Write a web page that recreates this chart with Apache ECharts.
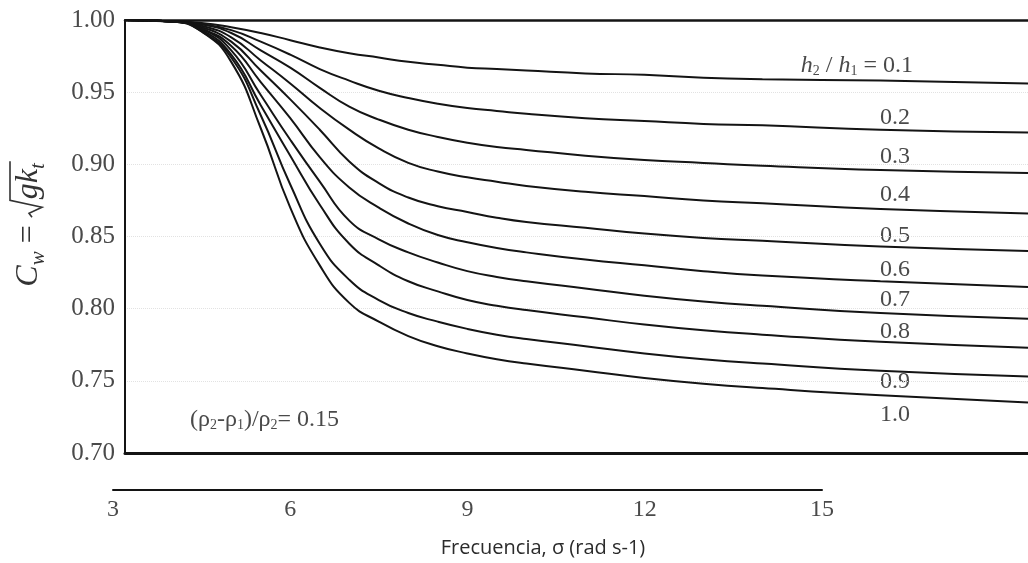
<!DOCTYPE html>
<html>
<head>
<meta charset="utf-8">
<title>Cw vs frecuencia</title>
<script src="https://cdn.jsdelivr.net/npm/echarts@6/dist/echarts.min.js"></script>
<style>
  html, body { margin: 0; padding: 0; background: #fff; }
  #chart { width: 1028px; height: 563px; }
</style>
</head>
<body>
<div id="chart"></div>
<script>
// Frequency samples (rad/s) shared by every curve
const sigma = [3.2, 4, 4.5, 5, 5.5, 6, 6.5, 7, 7.5, 8, 8.5, 9, 9.5, 10, 11, 12, 13, 14, 16, 18.5];

// Cw = sqrt(g k_t) for each depth ratio h2/h1
const cw01 = [1.000, 0.999, 0.998, 0.995, 0.991, 0.986, 0.981, 0.977, 0.974, 0.971, 0.969, 0.967, 0.966, 0.965, 0.963, 0.962, 0.960, 0.959, 0.958, 0.956];
const cw02 = [1.000, 0.999, 0.997, 0.993, 0.985, 0.976, 0.966, 0.958, 0.951, 0.946, 0.942, 0.939, 0.937, 0.935, 0.932, 0.930, 0.928, 0.927, 0.924, 0.922];
const cw03 = [1.000, 0.999, 0.997, 0.991, 0.979, 0.967, 0.953, 0.940, 0.931, 0.924, 0.919, 0.915, 0.912, 0.910, 0.906, 0.903, 0.901, 0.899, 0.896, 0.894];
const cw04 = [1.000, 0.999, 0.996, 0.988, 0.972, 0.956, 0.939, 0.924, 0.911, 0.901, 0.895, 0.891, 0.888, 0.885, 0.881, 0.878, 0.875, 0.873, 0.869, 0.866];
const cw05 = [1.000, 0.999, 0.995, 0.985, 0.965, 0.945, 0.924, 0.902, 0.887, 0.877, 0.871, 0.867, 0.863, 0.860, 0.856, 0.852, 0.849, 0.847, 0.843, 0.840];
const cw06 = [1.000, 0.999, 0.994, 0.982, 0.957, 0.932, 0.905, 0.884, 0.870, 0.859, 0.851, 0.846, 0.842, 0.839, 0.834, 0.830, 0.826, 0.823, 0.819, 0.815];
const cw07 = [1.000, 0.999, 0.994, 0.979, 0.948, 0.917, 0.888, 0.861, 0.848, 0.839, 0.832, 0.826, 0.822, 0.819, 0.814, 0.809, 0.805, 0.802, 0.797, 0.793];
const cw08 = [1.000, 0.999, 0.993, 0.976, 0.941, 0.906, 0.872, 0.845, 0.830, 0.819, 0.812, 0.806, 0.802, 0.799, 0.794, 0.789, 0.785, 0.782, 0.777, 0.773];
const cw09 = [1.000, 0.999, 0.992, 0.974, 0.934, 0.886, 0.845, 0.820, 0.806, 0.797, 0.791, 0.786, 0.782, 0.779, 0.774, 0.769, 0.765, 0.762, 0.757, 0.753];
const cw10 = [1.000, 0.999, 0.992, 0.971, 0.925, 0.870, 0.830, 0.804, 0.791, 0.781, 0.774, 0.769, 0.765, 0.762, 0.757, 0.752, 0.748, 0.745, 0.740, 0.735];

const ratioNames = ['0.1', '0.2', '0.3', '0.4', '0.5', '0.6', '0.7', '0.8', '0.9', '1.0'];
const curves = [cw01, cw02, cw03, cw04, cw05, cw06, cw07, cw08, cw09, cw10];

// Axis ticks
const yTicks = { min: 0.70, max: 1.00, step: 0.05 };
const xTicks = { min: 3, max: 15, step: 3 };

const serif = '"Liberation Serif", "DejaVu Serif", serif';
const ink = '#141414';
const textInk = '#4a4a4a';

const chart = echarts.init(document.getElementById('chart'), null, { renderer: 'canvas' });

// text measuring for the rotated axis title
const mctx = document.createElement('canvas').getContext('2d');
function tw(font, s) { mctx.font = font; return mctx.measureText(s).width; }

function yTitle() {
  const big = 'italic 32px ' + serif;
  const bigN = '32px ' + serif;
  const sub = 'italic 21px ' + serif;
  const parts = [];
  const wC = tw(big, 'C'); const wW = tw(sub, 'w');
  const wEq = tw(bigN, '=');
  const wGk = tw(big, 'gk'); const wT = tw(sub, 't');
  const total = wC + wW + 8 + wEq + 8 + 18 + wGk + wT + 2;
  let x = -total / 2;
  parts.push({ type: 'text', style: { text: 'C', x: x, y: 0, font: big, fill: '#333', verticalAlign: 'middle' } });
  x += wC;
  parts.push({ type: 'text', style: { text: 'w', x: x, y: 9, font: sub, fill: '#333', verticalAlign: 'middle' } });
  x += wW + 8;
  parts.push({ type: 'text', style: { text: '=', x: x, y: 0, font: bigN, fill: '#333', verticalAlign: 'middle' } });
  x += wEq + 8;
  const r0 = x;
  x += 18;
  parts.push({ type: 'text', style: { text: 'gk', x: x, y: 0, font: big, fill: '#333', verticalAlign: 'middle' } });
  x += wGk;
  parts.push({ type: 'text', style: { text: 't', x: x, y: 9, font: sub, fill: '#333', verticalAlign: 'middle' } });
  x += wT + 2;
  parts.push({
    type: 'polyline',
    shape: { points: [[r0, 3], [r0 + 4, 0], [r0 + 10, 13], [r0 + 17, -19], [x, -19]] },
    style: { stroke: '#333', lineWidth: 1.6, fill: null }
  });
  return { type: 'group', x: 29, y: 224, rotation: Math.PI / 2, children: parts };
}

// curve labels at the right side
const labelY = [0, 118, 157, 195, 236, 270, 300, 332, 382, 415];
const labelEls = [];
labelEls.push({
  type: 'text', x: 913, y: 66,
  style: {
    text: '{i|h}{s|2}{n| / }{i|h}{s|1}{n| = 0.1}',
    align: 'right', verticalAlign: 'middle',
    rich: {
      i: { fontStyle: 'italic', fontFamily: serif, fontSize: 24, fill: textInk, color: textInk },
      n: { fontFamily: serif, fontSize: 24, fill: textInk, color: textInk },
      s: { fontFamily: serif, fontSize: 14, fill: textInk, color: textInk, verticalAlign: 'bottom', padding: [10, 0, 0, 0] }
    }
  }
});
for (let i = 1; i < ratioNames.length; i++) {
  labelEls.push({
    type: 'text', x: 895, y: labelY[i],
    style: { text: ratioNames[i], font: '24px ' + serif, fill: textInk, align: 'center', verticalAlign: 'middle' }
  });
}
labelEls.push({
  type: 'text', x: 190, y: 420,
  style: {
    text: '{n|(ρ}{s|2}{n|-ρ}{s|1}{n|)/ρ}{s|2}{n|= 0.15}',
    align: 'left', verticalAlign: 'middle',
    rich: {
      n: { fontFamily: serif, fontSize: 24, fill: textInk, color: textInk },
      s: { fontFamily: serif, fontSize: 14, fill: textInk, color: textInk, verticalAlign: 'bottom', padding: [10, 0, 0, 0] }
    }
  }
});
labelEls.push({
  type: 'text', x: 543, y: 548,
  style: { text: 'Frecuencia, σ (rad s-1)', font: '20px "Open Sans", "Noto Sans", sans-serif', fill: '#2b2b2b', align: 'center', verticalAlign: 'middle' }
});
labelEls.push(yTitle());

const option = {
  backgroundColor: '#ffffff',
  animation: false,
  grid: [
    { left: 125, right: 0, top: 20, bottom: 110, containLabel: false },
    { left: 113, width: 709, top: 480, height: 10, containLabel: false }
  ],
  xAxis: [
    {
      gridIndex: 0, type: 'value', min: 3.2, max: 18.5, position: 'bottom',
      axisLine: { show: true, onZero: false, lineStyle: { color: ink, width: 3 } },
      axisTick: { show: false }, axisLabel: { show: false }, splitLine: { show: false }
    },
    {
      gridIndex: 1, type: 'value', min: xTicks.min, max: xTicks.max, interval: xTicks.step,
      axisLine: { show: true, onZero: false, lineStyle: { color: ink, width: 2 } },
      axisTick: { show: false },
      axisLabel: { fontFamily: serif, fontSize: 24, color: textInk, margin: 8 },
      splitLine: { show: false }
    },
    {
      gridIndex: 0, type: 'value', min: 3.2, max: 18.5, position: 'top',
      axisLine: { show: true, onZero: false, lineStyle: { color: ink, width: 2.5 } },
      axisTick: { show: false }, axisLabel: { show: false }, splitLine: { show: false }
    }
  ],
  yAxis: [
    {
      gridIndex: 0, type: 'value', min: yTicks.min, max: yTicks.max, interval: yTicks.step,
      axisLine: { show: true, lineStyle: { color: ink, width: 2 } },
      axisTick: { show: false },
      axisLabel: {
        fontFamily: serif, fontSize: 25, color: textInk, margin: 10,
        formatter: v => v.toFixed(2)
      },
      splitLine: { show: true, lineStyle: { color: '#e2e2e2', type: 'dotted', width: 1 } }
    },
    { gridIndex: 1, type: 'value', show: false }
  ],
  series: curves.map((vals, i) => ({
    name: ratioNames[i],
    type: 'line',
    xAxisIndex: 0, yAxisIndex: 0,
    data: sigma.map((s, j) => [s, vals[j]]),
    smooth: 0.5,
    showSymbol: false,
    silent: true,
    clip: true,
    lineStyle: { color: ink, width: 2 }
  })),
  graphic: labelEls
};

chart.setOption(option);
</script>
</body>
</html>
